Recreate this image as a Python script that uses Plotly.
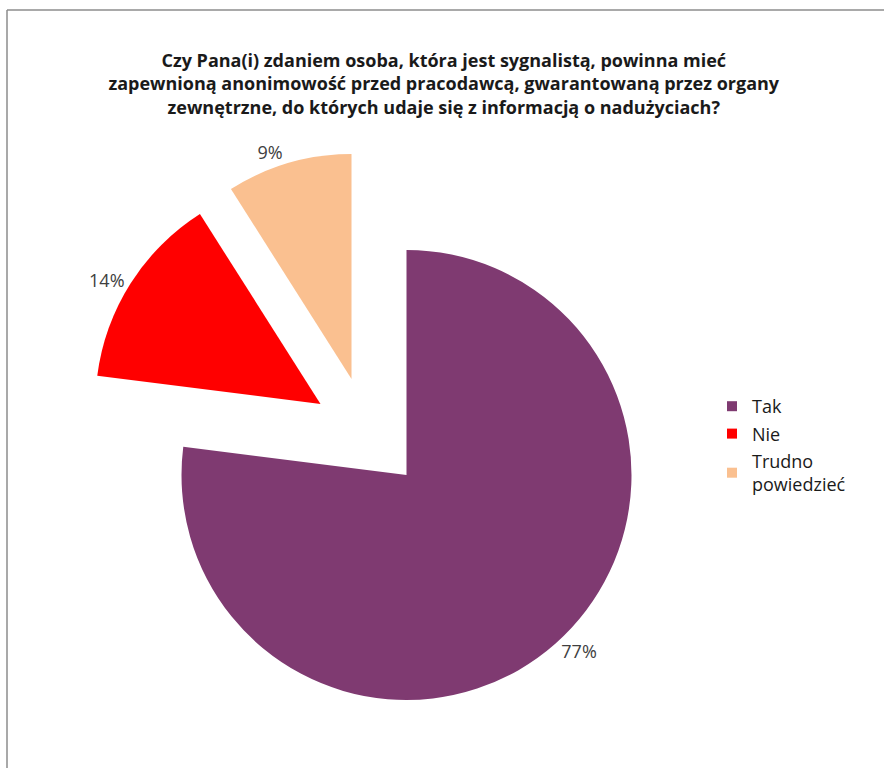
import plotly.graph_objects as go

# Survey answers (share of respondents, %)
labels = ["Tak", "Nie", "Trudno<br>powiedzieć"]
values = [77, 14, 9]
colors = ["#7F3A71", "#FF0000", "#FAC090"]

title_text = ("<b>Czy Pana(i) zdaniem osoba, która jest sygnalistą, powinna mieć<br>"
              "zapewnioną anonimowość przed pracodawcą, gwarantowaną przez organy<br>"
              "zewnętrzne, do których udaje się z informacją o nadużyciach?</b>")

# Page geometry (px) and pie placement
W, H = 884, 768
CX, CY, R = 406.5, 475.0, 225.0
# Offset of each slice's apex from the pie centre (exploded slices)
explode = [(0.0, 0.0), (-86.0, -71.0), (-55.0, -96.0)]

FONT = "Open Sans, Noto Sans, DejaVu Sans, sans-serif"

fig = go.Figure()

# One pie trace per slice: every trace holds all values so the angles are shared,
# but only its own slice is painted; each trace is shifted by its explode offset.
for i, (dx, dy) in enumerate(explode):
    cx, cy = CX + dx, CY + dy
    slice_colors = [c if j == i else "rgba(0,0,0,0)" for j, c in enumerate(colors)]
    templates = ["%{percent:.0%}" if j == i else "" for j in range(len(values))]
    fig.add_trace(go.Pie(
        labels=labels,
        values=values,
        sort=False,
        direction="clockwise",
        rotation=0,
        marker=dict(colors=slice_colors, line=dict(width=0)),
        texttemplate=templates,
        textposition="outside",
        outsidetextfont=dict(family=FONT, size=18, color="#404040"),
        hoverinfo="skip",
        showlegend=False,
        domain=dict(
            x=[(cx - R) / W, (cx + R) / W],
            y=[(H - cy - R) / H, (H - cy + R) / H],
        ),
    ))

# Legend entries
for lab, col in zip(labels, colors):
    fig.add_trace(go.Scatter(
        x=[None], y=[None], mode="markers", name=lab,
        marker=dict(symbol="square", size=10, color=col),
        legendgroup=lab,
    ))

# Chart frame (top and left edges)
fig.add_shape(type="line", xref="paper", yref="paper",
              x0=7 / W, x1=1, y0=1 - 10 / H, y1=1 - 10 / H,
              line=dict(color="#8C8C8C", width=1.5))
fig.add_shape(type="line", xref="paper", yref="paper",
              x0=7 / W, x1=7 / W, y0=0, y1=1 - 10 / H,
              line=dict(color="#8C8C8C", width=1.5))

fig.update_layout(
    width=W, height=H,
    margin=dict(l=0, r=0, t=0, b=0),
    paper_bgcolor="white",
    plot_bgcolor="white",
    font=dict(family=FONT, size=18, color="#1a1a1a"),
    title=dict(text=title_text, x=0.502, xanchor="center",
               y=1 - 67 / H, yanchor="top",
               font=dict(family=FONT, size=18, color="#1a1a1a")),
    xaxis=dict(visible=False),
    yaxis=dict(visible=False),
    legend=dict(x=712 / W, y=1 - 388 / H, xanchor="left", yanchor="top",
                font=dict(family=FONT, size=18, color="#1a1a1a"),
                bgcolor="rgba(0,0,0,0)", tracegroupgap=1,
                traceorder="grouped", itemwidth=30),
)

fig.write_html("out.html")
